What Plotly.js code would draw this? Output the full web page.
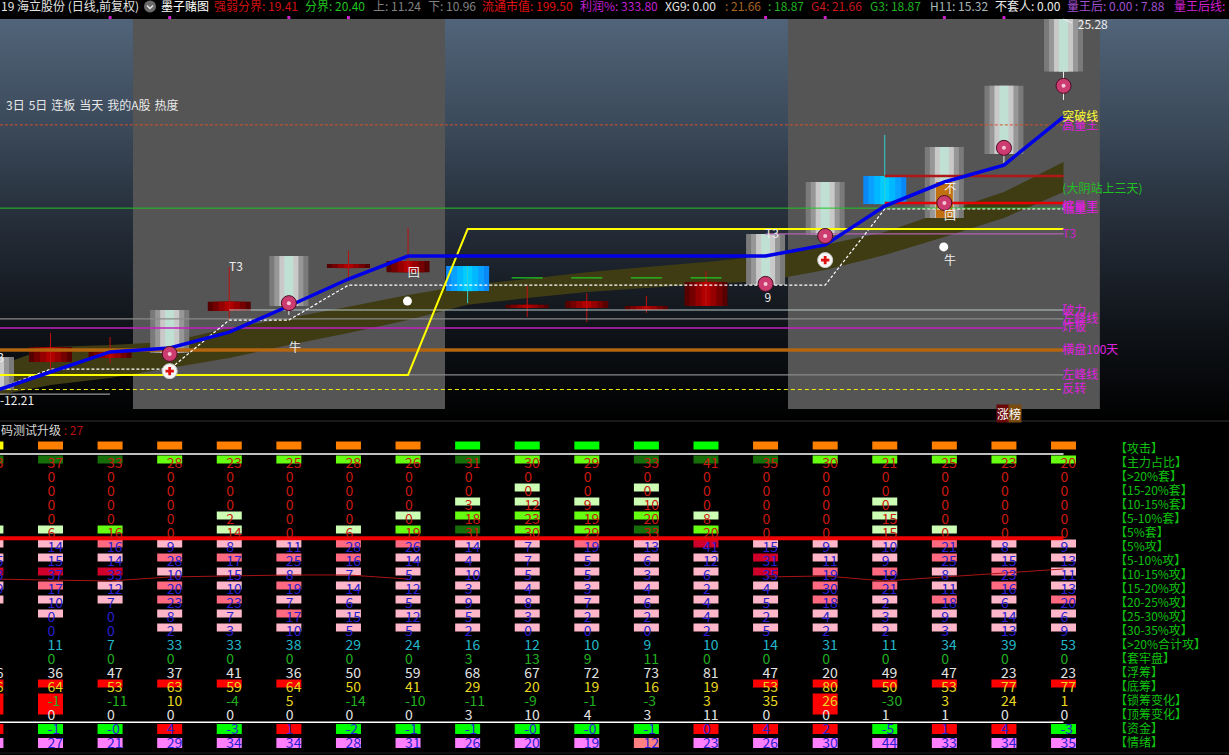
<!DOCTYPE html>
<html><head><meta charset="utf-8">
<script src="https://cdn.plot.ly/plotly-3.0.1.min.js"></script>
<style>html,body{margin:0;padding:0;background:#000;overflow:hidden}#c{width:1229px;height:755px}</style>
</head><body><div id="c"></div>
<script>
// ---------- candles (price pane) ----------
const candleX    =[-0.94,0,1,2,3,4,5,6,7,8,9,10,11,12,13,14,15,16,17];
const candleKind =['g','r','r','g','r','g','r','r','b','r','r','r','r','g','g','b','g','g','g'];
const candleHigh =[13.50,13.85,13.68,15.14,15.43,17.02,16.74,16.85,16.67,15.32,15.45,15.28,16.12,17.79,19.60,19.81,20.82,22.95,25.28];
const candleLow  =[12.35,13.33,13.47,13.64,15.11,15.28,16.60,16.46,15.80,15.21,15.21,15.14,15.28,16.01,17.75,18.83,18.35,20.58,23.45];
const redWickX   =[0,1,3,5,6,8,9,10,11];
const redWickTop =[14.34,14.20,16.64,17.20,18.00,15.98,15.73,15.63,16.50];
const redWickBot =[13.08,13.29,14.79,16.15,16.46,14.90,14.72,15.04,15.28];
const cyanWickX  =[7,14];
const cyanWickTop=[16.67,21.24];
const cyanWickBot=[15.38,18.73];
const whiteWickX =[4,16,17];
const whiteWickTop=[15.28,20.58,23.45];
const whiteWickBot=[14.97,20.26,22.46];
const dojiX=[15], dojiHigh=[19.60], dojiLow=[18.35];

// ---------- indicator lines ----------
const lineIdx   =[-0.85,0,1,2,3,4,5,6,7,8,9,10,11,12,13,14,15,16,17];
const blueLine  =[12.38,12.98,13.68,13.82,14.37,15.28,16.22,17.02,17.02,17.02,17.02,17.02,17.02,17.02,17.41,18.76,19.60,20.19,21.87];
const yellowLine=[12.88,12.88,12.88,12.88,12.88,12.88,12.88,12.88,17.96,17.96,17.96,17.96,17.96,17.96,17.96,17.96,17.96,17.96,17.96];
const dashLine  =[12.42,13.08,13.08,13.08,14.79,14.79,16.01,16.01,16.01,16.01,16.01,16.01,16.01,16.01,16.01,18.66,18.66,18.66,18.66];
const bandIdx   =[-0.85,0,1,2,3,4,5,6,7,8,9,10,11,12,13,14,15,16,17];
const bandTop   =[13.22,13.85,13.92,14.03,14.51,14.86,15.25,15.66,16.01,16.22,16.46,16.64,16.81,17.02,17.41,17.86,18.56,19.25,20.30];
const bandBot   =[12.18,12.53,12.77,13.12,13.47,13.92,14.34,14.79,15.32,15.56,15.77,15.91,16.05,16.15,16.53,17.06,17.68,18.35,19.25];
const greenStubX=[8,9,10,11];
const greenStubP=[16.26,16.26,16.26,16.26];

// horizontal levels: name, start index, price, colour, width, dash
const levelNames =['高量王','低量王','T3','红上','红下','破力','左峰上','炸板','横盘100天','左峰下','反转','最低'];
const levelStart =[-0.85,-0.85,12,14,14,3,-0.85,-0.85,-0.85,-0.85,-0.85,-0.85];
const levelEnd   =[17,17,17,17,17,17,17,17,17,17,17,1];
const levelPrice =[21.59,18.69,17.79,18.87,19.81,15.14,14.83,14.51,13.75,12.88,12.37,12.21];
const levelColor =['#d8502a','#22c522','#b060b0','#e80000','#b01818','#b8c8c8','#8a8a8a','#c020c0','#b4660f','#8a8a8a','#f2f200','#bbbbbb'];
const levelWidth =[1,1,1.3,2.5,2.5,1.2,1.2,1.5,3.5,1.2,1,1];
const levelDash  =['3px,2px','solid','solid','solid','solid','solid','solid','solid','solid','solid','4px,3px','solid'];

// labels at right end of the lines
const endLabels=['高量王','突破线','(大阴站上三天)','缩量王','低量王','T3','破力','左峰线','炸板','横盘100天','左峰线','反转'];
const endPrices=[21.55,21.87,19.36,18.76,18.69,17.79,15.11,14.83,14.55,13.75,12.88,12.39];
const endColors=['#e020e0','#ffff30','#20c020','#e020e0','#e020e0','#d020d0','#e020e0','#e020e0','#e020e0','#e020e0','#e020e0','#e020e0'];

// white notes on the candles
const noteText=['T3','T3','T3','9','牛','回','不','回','牛','25.28','-12.21'];
const noteX   =[-0.898,3.113,12.108,12.04,4.103,6.095,15.095,15.095,15.095,17.49,-0.562];
const noteP   =[13.50,16.64,17.82,15.56,13.82,16.43,19.36,18.42,16.86,25.08,11.98];

// event icons
const flowerX=[2,4,12,13,15,16,17];
const flowerP=[13.61,15.38,16.05,17.72,18.87,20.79,22.95];
const plusX=[2,13];
const plusP=[13.01,16.88];
const dotX=[5.99,14.99];
const dotP=[15.45,17.34];
const dayTickX=[1,2,4,5,12,13,15,16];
const dayTickP=[25.33,25.33,25.33,25.33,25.33,25.33,25.33,25.33];
const peakHookX=[17,17.14];
const peakHookP=[25.28,25.14];

// ---------- table ----------
const columns=[-1,0,1,2,3,4,5,6,7,8,9,10,11,12,13,14,15,16,17];
const rowNames=['【攻击】','【主力占比】','【>20%套】','【15-20%套】','【10-15%套】','【5-10%套】','【5%套】','【5%攻】','【5-10%攻】','【10-15%攻】','【15-20%攻】','【20-25%攻】','【25-30%攻】','【30-35%攻】','【>20%合计攻】','【套牢盘】','【浮筹】','【底筹】','【锁筹变化】','【顶筹变化】','【资金】','【情绪】'];
const _=null;
const zhuli =[33,37,33,28,23,25,28,26,31,30,29,33,41,35,30,21,25,23,20];
const tao20 =[_,0,0,0,0,0,0,0,0,0,0,0,0,0,0,0,0,0,0];
const tao15 =[_,0,0,0,0,0,0,0,0,0,0,0,0,0,0,0,0,0,0];
const tao10 =[_,0,0,0,0,0,0,0,3,12,9,10,0,0,0,0,0,0,0];
const tao5  =[_,0,0,0,2,0,0,0,18,23,19,20,8,0,0,15,0,0,0];
const tao0  =[_,6,16,0,14,0,6,19,31,30,29,33,20,0,0,15,0,0,0];
const gong0 =[_,14,16,9,8,11,28,26,14,7,19,13,41,15,9,10,21,8,9];
const gong5 =[15,15,14,28,17,25,16,14,4,7,5,6,12,31,11,9,25,15,13];
const gong10=[33,37,33,10,15,8,7,5,10,5,5,3,6,35,19,19,8,23,11];
const gong15=[19,17,12,20,10,19,14,12,3,4,3,4,2,4,30,21,11,16,13];
const gong20=[_,10,7,23,23,7,6,5,9,8,7,6,4,5,18,2,18,6,20];
const gong25=[_,0,0,8,7,17,15,12,5,3,2,2,4,2,4,3,9,14,6];
const gong30=[_,0,0,2,3,10,5,5,2,0,0,0,2,5,2,2,3,13,9];
const heji  =[_,11,7,33,33,38,29,24,16,12,10,9,10,14,31,11,34,39,53];
const taolao=[_,0,0,0,0,0,0,0,3,13,9,11,0,0,0,0,0,0,0];
const fuchou=[36,36,47,37,41,36,50,59,68,67,72,73,81,47,20,49,47,23,23];
const dichou=[56,64,53,63,59,64,50,41,29,20,19,16,19,53,80,50,53,77,77];
const suochou=[_,-1,-11,10,-4,5,-14,-10,-11,-9,-1,-3,3,35,26,-30,3,24,1];
const dingchou=[_,0,0,0,0,0,0,0,3,10,4,3,11,0,0,1,1,0,0];
const zijin =[_,'-1','-0','4','-3','1','-2','-1','-1','-0','-0','-1','0','4','2','-5','1','4','-3'];
const qingxu=[_,27,21,29,34,34,28,31,26,20,19,12,23,26,30,44,33,34,35];
// one letter per column, '.' = no cell
const cellCodes=[
 'YOOOOOOOGGGGGOOOOOO',
 'DDDLLLLLDLLDDDLLLLL',
 '...................',
 '.........a.a.......',
 '........aaaa...a...',
 '....a..aLLLLa..a...',
 'aaL.a.aLDLLDL..aa..',
 'ppmpppmmppmprpppmpp',
 'pppmmmmppppppr'+'ppmpp',
 'rrrppppppppppr'+'mmpmp',
 'pmpmpmppppppppmmpmp',
 'pppmmpppppppppmpmpm',
 '.p.ppmppppppppppppp',
 '...pppppppppppppppp',
 '...................',
 '...................',
 '...................',
 'RRRRRR.......RRRRRR',
 'BB............B....',
 '...................',
 'RGGRGRGGGGGGRRRGRRG',
 'VVVVVVVVVVVSVVVVVVV'];
const rowData=[null,zhuli,tao20,tao15,tao10,tao5,tao0,gong0,gong5,gong10,gong15,gong20,gong25,gong30,heji,taolao,fuchou,dichou,suochou,dingchou,zijin,qingxu];
const waveIdx=[-1,0,1,2,3,4,5,6];
const waveRow=[9.31,9.38,9.45,9.16,9.09,9.02,9.02,9.31];
const waveIdx2=[12,13,14,15,16,17];
const waveRow2=[9.16,9.09,9.45,9.16,8.88,8.59];

// ---------- header ----------
const headerText=['19 海立股份 (日线,前复权)','墨子赌图','强弱分界: 19.41','分界: 20.40','上: 11.24','下: 10.96','流通市值: 199.50','利润%: 333.80','XG9: 0.00',': 21.66',': 18.87','G4: 21.66','G3: 18.87','H11: 15.32','不套人: 0.00','量王后: 0.00 : 7.88','量王后线: 15.32'];
const headerLeft=[0,160,213,304,372,427,481,579,664,724,767,810,869,929,994,1066,1173];
const headerColor=['#e4e4e4','#ffffff','#d01010','#20c020','#808080','#808080','#e01010','#c020d0','#e4e4e4','#a86420','#20b020','#c81818','#20b020','#a8b8b8','#ececec','#a050d0','#d020d0'];

// ---------- styling ----------
const W=1229,H=755, FONT='"Noto Sans CJK SC","Noto Sans",sans-serif';
const PXPER=59.59;                        // pixels per column
const xRange=[-50.5/PXPER,(W-50.5)/PXPER];
const priceRange=[11.273,25.942];
const rowRange=[21.879,-1.979];
const splitFrac=(H-421)/H;
const cellColor={Y:'#ffff00',O:'#ff8000',G:'#00ff00',D:'#156e08',L:'#66ff11',a:'#ccffb4',p:'#ffb6c8',m:'#ff6a80',r:'#d0002a',R:'#ff0000',B:'#ff0000',V:'#ff80ff',S:'#ff8080'};
const textColor=[null,'#cc1a10','#cc1a10','#cc1a10','#cc1a10','#cc1a10','#cc1a10','#2a1ed0','#2a1ed0','#2a1ed0','#2a1ed0','#2a1ed0','#2a1ed0','#2a1ed0','#22b8c8','#22b020','#e4e4e4','#e8d820',null,'#e4e4e4','#2a1ed0','#2a1ed0'];
const TEXT_ROW_NUDGE=0.12, TEXT_PRICE_NUDGE=-0.05;

const traces=[], shapes=[], annos=[];
function line(x,y,color,width,dash,ya){traces.push({type:'scatter',mode:'lines',x,y,yaxis:ya||'y',line:{color,width,dash:dash||'solid',simplify:false},hoverinfo:'skip'});}

// background gradient and sessions
const stops=[[19,[81,100,121]],[130,[58,72,88]],[230,[35,43,54]],[330,[15,19,24]],[421,[0,0,0]]];
const px2p=y=>25.28-(y-19)*0.034843;
for(let y=19;y<421;y+=2){
  let k=0; while(k<stops.length-2&&y>stops[k+1][0])k++;
  const t=(y-stops[k][0])/(stops[k+1][0]-stops[k][0]);
  const c=stops[k][1].map((v,i)=>Math.round(v+(stops[k+1][1][i]-v)*t));
  shapes.push({type:'rect',layer:'below',xref:'x',yref:'y',x0:xRange[0],x1:xRange[1],y0:px2p(y),y1:px2p(y+2.5),fillcolor:`rgb(${c})`,line:{width:0}});
}
[[1.384,6.62],[12.376,17.61]].forEach(b=>shapes.push({type:'rect',layer:'below',xref:'x',yref:'y',x0:b[0],x1:b[1],y0:px2p(409),y1:px2p(19),fillcolor:'#555555',line:{width:0}}));
let bandPath='M'+bandIdx.map((x,i)=>x+','+bandTop[i]).join('L')+'L'+bandIdx.map((x,i)=>x+','+bandBot[i]).reverse().join('L')+'Z';
shapes.push({type:'path',layer:'below',xref:'x',yref:'y',path:bandPath,fillcolor:'#3f3c13',line:{width:0}});

// candle bodies: nested stripes, outer first
const stripe={g:['#7a7a7a','#979797','#c9c9c9','#bfe0d3'],r:['#560000','#740000','#960000','#b00000'],b:['#0a88f5','#0aa0ff','#00b8ff','#00ccff']};
const stripeW={g:[39,29,19,9],r:[43,33,21,9],b:[43,33,21,9]};
for(let s=0;s<4;s++){
  traces.push({type:'bar',x:candleX,base:candleLow,y:candleHigh.map((h,i)=>h-candleLow[i]),width:candleKind.map(k=>stripeW[k][s]/PXPER),marker:{color:candleKind.map(k=>stripe[k][s]),line:{width:0}},hoverinfo:'skip'});
}
traces.push({type:'bar',x:dojiX,base:dojiLow,y:dojiHigh.map((h,i)=>h-dojiLow[i]),width:17/PXPER,marker:{color:'#c07010',line:{width:0}},hoverinfo:'skip'});

// table cells
const cx=[],cb=[],ch=[],cc=[];
cellCodes.forEach((code,r)=>{[...code].forEach((k,j)=>{
  if(k==='.')return;
  cx.push(columns[j]);
  const big=r===18, tall=r>=20;
  cb.push(r-(tall?4.7:7.2)/14);
  ch.push((big?21:tall?10:8)/14);
  cc.push(cellColor[k]);
});});
traces.push({type:'bar',x:cx,base:cb,y:ch,yaxis:'y2',width:25/PXPER,marker:{color:cc,line:{width:0}},hoverinfo:'skip'});

// wicks
function wicks(xs,t,b,color,w){const X=[],Y=[];xs.forEach((x,i)=>{X.push(x,x,null);Y.push(t[i],b[i],null);});line(X,Y,color,w);}
wicks(redWickX,redWickTop,redWickBot,'#c01010',1);
wicks(cyanWickX,cyanWickTop,cyanWickBot,'#30d0d0',1);
wicks(whiteWickX,whiteWickTop,whiteWickBot,'#f0f0f0',1);
line(peakHookX,peakHookP,'#f0f0f0',1);

// levels
levelNames.forEach((n,i)=>line([levelStart[i],levelEnd[i]],[levelPrice[i],levelPrice[i]],levelColor[i],levelWidth[i],levelDash[i]));
(function(){const X=[],Y=[];greenStubX.forEach((x,i)=>{X.push(x-0.26,x+0.26,null);Y.push(greenStubP[i],greenStubP[i],null);});line(X,Y,'#20d020',1.2);})();

// indicator lines
line(lineIdx,dashLine,'#ffffff',1.2,'3px,2px');
line(lineIdx,yellowLine,'#ffff00',2);
line(lineIdx,blueLine,'#0000e6',3.5);

// icons
function mk(x,y,symbol,size,color,lc,lw){traces.push({type:'scatter',mode:'markers',x,y,marker:{symbol,size,color,line:{color:lc||color,width:lw||0}},hoverinfo:'skip'});}
mk(dayTickX,dayTickP,'square',3,'#d020d0');
mk(flowerX,flowerP,'circle',15,'#cc3c70','#4a0d24',1);
mk(flowerX,flowerP,'circle',4,'#f4c8d4');
mk(plusX,plusP,'circle',15,'#f6f6f6','#cccccc',1);
mk(plusX,plusP,'cross',7,'#e01010');
mk(dotX,dotP,'circle',9,'#ffffff');

// table rules and wave
line([-0.85,17],[0.38,0.38],'#ffffff',1.5,'solid','y2');
line([-0.85,17],[19.54,19.54],'#ffffff',1.5,'solid','y2');
line([-0.85,17],[6.4,6.4],'#f00000',4,'solid','y2');
line(waveIdx,waveRow,'#a81414',1,'solid','y2');
line(waveIdx2,waveRow2,'#a81414',1,'solid','y2');

// table text
const tx=[],ty=[],tt=[],tc=[];
rowData.forEach((vals,r)=>{ if(!vals)return; vals.forEach((v,j)=>{
  if(v===null)return;
  tx.push(columns[j]-3/PXPER); ty.push(r+TEXT_ROW_NUDGE); tt.push(String(v));
  let col=textColor[r];
  if(r===18) col=v<0?'#22b020':'#e8d820';
  tc.push(col);
});});
traces.push({type:'scatter',mode:'text',x:tx,y:ty,yaxis:'y2',text:tt,textposition:'middle right',textfont:{family:FONT,size:14,color:tc},hoverinfo:'skip'});
traces.push({type:'scatter',mode:'text',x:rowNames.map(()=>(1115-50.5)/PXPER),y:rowNames.map((_,i)=>i+TEXT_ROW_NUDGE),yaxis:'y2',text:rowNames,textposition:'middle right',textfont:{family:FONT,size:12,color:'#10c010'},hoverinfo:'skip'});

// chart labels
traces.push({type:'scatter',mode:'text',x:endLabels.map(()=>16.98),y:endPrices.map(p=>p+TEXT_PRICE_NUDGE),text:endLabels,textposition:'middle right',textfont:{family:FONT,size:12,color:endColors},hoverinfo:'skip'});
traces.push({type:'scatter',mode:'text',x:noteX,y:noteP.map(p=>p+TEXT_PRICE_NUDGE),text:noteText,textposition:'middle center',textfont:{family:FONT,size:12,color:'#eeeeee'},hoverinfo:'skip'});

// header + captions
headerText.forEach((t,i)=>annos.push({xref:'paper',yref:'paper',x:headerLeft[i]/W,y:1-6/H,xanchor:'left',yanchor:'middle',text:t,showarrow:false,font:{family:FONT,size:12,color:headerColor[i]},borderpad:0}));
annos.push({xref:'paper',yref:'paper',x:5/W,y:1-104/H,xanchor:'left',yanchor:'middle',text:'3日\u20045日\u2004连板\u2004当天\u2004我的A股\u2004热度',showarrow:false,font:{family:FONT,size:12,color:'#e8e8e8'},borderpad:0});
annos.push({xref:'paper',yref:'paper',x:0,y:1-429.5/H,xanchor:'left',yanchor:'middle',text:'码测试升级<span style="color:#b81010"> : 27</span>',showarrow:false,font:{family:FONT,size:12,color:'#d8d8d8'},borderpad:0});
annos.push({xref:'paper',yref:'paper',x:996/W,y:1-413.5/H,xanchor:'left',yanchor:'middle',text:'涨',showarrow:false,bgcolor:'#6a0808',font:{family:FONT,size:12,color:'#fff'},borderpad:0});
annos.push({xref:'paper',yref:'paper',x:1008/W,y:1-413.5/H,xanchor:'left',yanchor:'middle',text:'榜',showarrow:false,bgcolor:'#7a4a10',font:{family:FONT,size:12,color:'#fff'},borderpad:0});

// header chevron button + pane separators
const P=(x,y)=>(x/W)+','+(1-y/H);
shapes.push({type:'circle',layer:'above',xref:'paper',yref:'paper',x0:144/W,x1:156/W,y0:1-12.5/H,y1:1-0.5/H,fillcolor:'#6a6a6a',line:{width:0}});
shapes.push({type:'path',layer:'above',xref:'paper',yref:'paper',path:'M'+P(147,5.5)+'L'+P(150,8.5)+'L'+P(153,5.5),line:{color:'#e8e8e8',width:1.5}});
shapes.push({type:'line',layer:'above',xref:'paper',yref:'paper',x0:0,x1:1,y0:1-421/H,y1:1-421/H,line:{color:'#333333',width:1}});
shapes.push({type:'line',layer:'above',xref:'paper',yref:'paper',x0:0,x1:1,y0:1-753/H,y1:1-753/H,line:{color:'#1c1c1c',width:1}});

Plotly.newPlot('c',traces,{
  width:W,height:H,margin:{l:0,r:0,t:0,b:0,pad:0},paper_bgcolor:'#000',plot_bgcolor:'#000',
  showlegend:false,barmode:'overlay',hovermode:false,font:{family:FONT},
  xaxis:{range:xRange,visible:false,fixedrange:true},
  yaxis:{domain:[splitFrac,1],range:priceRange,visible:false,fixedrange:true},
  yaxis2:{domain:[0,splitFrac],range:rowRange,visible:false,fixedrange:true},
  shapes,annotations:annos
},{staticPlot:true,displayModeBar:false});
</script></body></html>
